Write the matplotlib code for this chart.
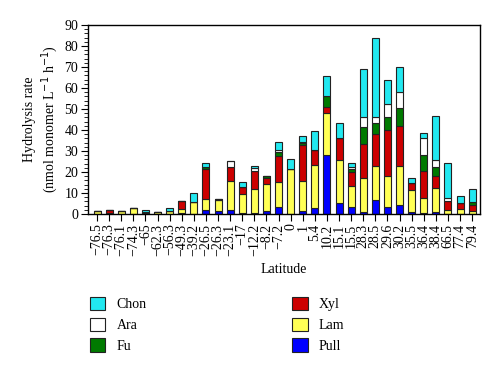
import numpy as np
import matplotlib
matplotlib.use("Agg")
import matplotlib.pyplot as plt
from matplotlib.patches import Patch
from matplotlib.ticker import MultipleLocator

plt.rcParams['font.family'] = ['Liberation Serif', 'DejaVu Serif']

# Latitude of each station (tick labels)
latitudes = ["-76.5", "-76.3", "-76.1", "-74.3", "-65", "-62.3", "-56.3", "-49.3",
             "-39.2", "-26.5", "-26.3", "-23.1", "-17", "-12.2", "-8.2", "-7.2",
             "0", "1", "5.4", "10.2", "15.1", "15.5", "28.3", "28.5",
             "29.6", "30.2", "35.5", "36.4", "38.4", "66.5", "77.4", "79.4"]

# hydrolysis rates per substrate
pull = [0, 0, 0, 0, 0.3, 0, 0, 0.4, 0, 1.9, 1.6, 1.9, 0.6, 0.6, 1.4, 3.5,
        0, 1.6, 2.7, 28.1, 5.1, 3.5, 1.1, 6.7, 3.5, 4.3, 1.1, 0.3, 1.1, 0, 0, 0]
lam = [1.2, 0.6, 1.3, 3.0, 0.5, 1.0, 1.3, 2.1, 5.6, 5.1, 5.2, 14.0, 8.8, 11.1, 12.9, 11.9,
       21.3, 14.1, 20.6, 20.1, 20.6, 10.0, 16.2, 16.3, 14.7, 18.7, 10.3, 7.2, 11.4, 1.9, 2.2, 1.4]
xyl = [0, 1.3, 0, 0, 0, 0, 0, 3.5, 0, 14.3, 0, 6.6, 3.3, 8.9, 2.7, 12.4,
       0, 17.2, 7.2, 2.6, 10.3, 6.3, 16.0, 14.9, 21.8, 19.0, 3.2, 13.1, 5.6, 4.4, 3.2, 2.9]
fu = [0, 0, 0, 0, 0, 0, 0, 0, 0, 1.2, 0.5, 0, 0, 0, 1.1, 1.7,
      0, 0.7, 0, 5.4, 0, 1.6, 8.0, 5.6, 6.3, 8.3, 0, 7.5, 4.4, 0, 0, 1.6]
ara = [0, 0, 0, 0, 0, 0, 0, 0, 0, 0, 0, 2.6, 0, 1.1, 0, 1.0,
       0, 0.8, 0, 0, 0, 1.1, 5.0, 2.5, 6.1, 7.9, 0, 7.9, 3.2, 1.5, 0, 0]
chon = [0, 0, 0, 0, 1.2, 0, 1.4, 0, 4.5, 1.6, 0, 0, 2.4, 1.3, 0, 3.9,
        4.9, 2.7, 9.0, 9.5, 7.5, 1.6, 22.6, 37.7, 11.4, 11.6, 2.7, 2.4, 21.1, 16.6, 2.9, 6.0]

series = [("Pull", pull, "#0000ff"), ("Lam", lam, "#ffff55"), ("Xyl", xyl, "#cc0000"),
          ("Fu", fu, "#007a00"), ("Ara", ara, "#ffffff"), ("Chon", chon, "#22e8f0")]

fig = plt.figure(figsize=(5, 3.72), dpi=100)
ax = fig.add_axes([0.176, 0.425, 0.784, 0.508])

x = np.arange(len(latitudes))
bottom = np.zeros(len(latitudes))
for name, vals, col in series:
    vals = np.array(vals)
    ax.bar(x, vals, width=0.58, bottom=bottom, color=col, edgecolor="#222222", linewidth=0.8)
    bottom += vals

ax.set_xlim(-0.75, len(latitudes) - 0.35)
ax.set_ylim(0, 90)
ax.yaxis.set_major_locator(MultipleLocator(10))
ax.yaxis.set_minor_locator(MultipleLocator(2))
ax.tick_params(axis='y', which='major', length=5, labelsize=10, pad=2)
ax.tick_params(axis='y', which='minor', length=3)
ax.set_xticks(x)
ax.set_xticklabels([l.replace("-", "\u2212") for l in latitudes], rotation=90, fontsize=10)
ax.tick_params(axis='x', length=5, pad=2)
for s in ax.spines.values():
    s.set_linewidth(1.0)

ax.set_ylabel("Hydrolysis rate\n(nmol monomer L$^{-1}$ h$^{-1}$)", fontsize=10, labelpad=3)
ax.set_xlabel("Latitude", fontsize=10, labelpad=5)

# legend: two columns below the plot
order = ["Chon", "Ara", "Fu", "Xyl", "Lam", "Pull"]
cols = {n: c for n, v, c in series}
handles = [Patch(facecolor=cols[n], edgecolor="#222222", linewidth=0.8, label=n) for n in order]
fig.legend(handles=handles, ncol=2, frameon=False, loc='upper left',
           bbox_to_anchor=(0.155, 0.235), fontsize=10, handlelength=1.1, handleheight=1.1,
           columnspacing=10.5, labelspacing=0.45, handletextpad=0.8)

fig.savefig("out.png", dpi=100)
